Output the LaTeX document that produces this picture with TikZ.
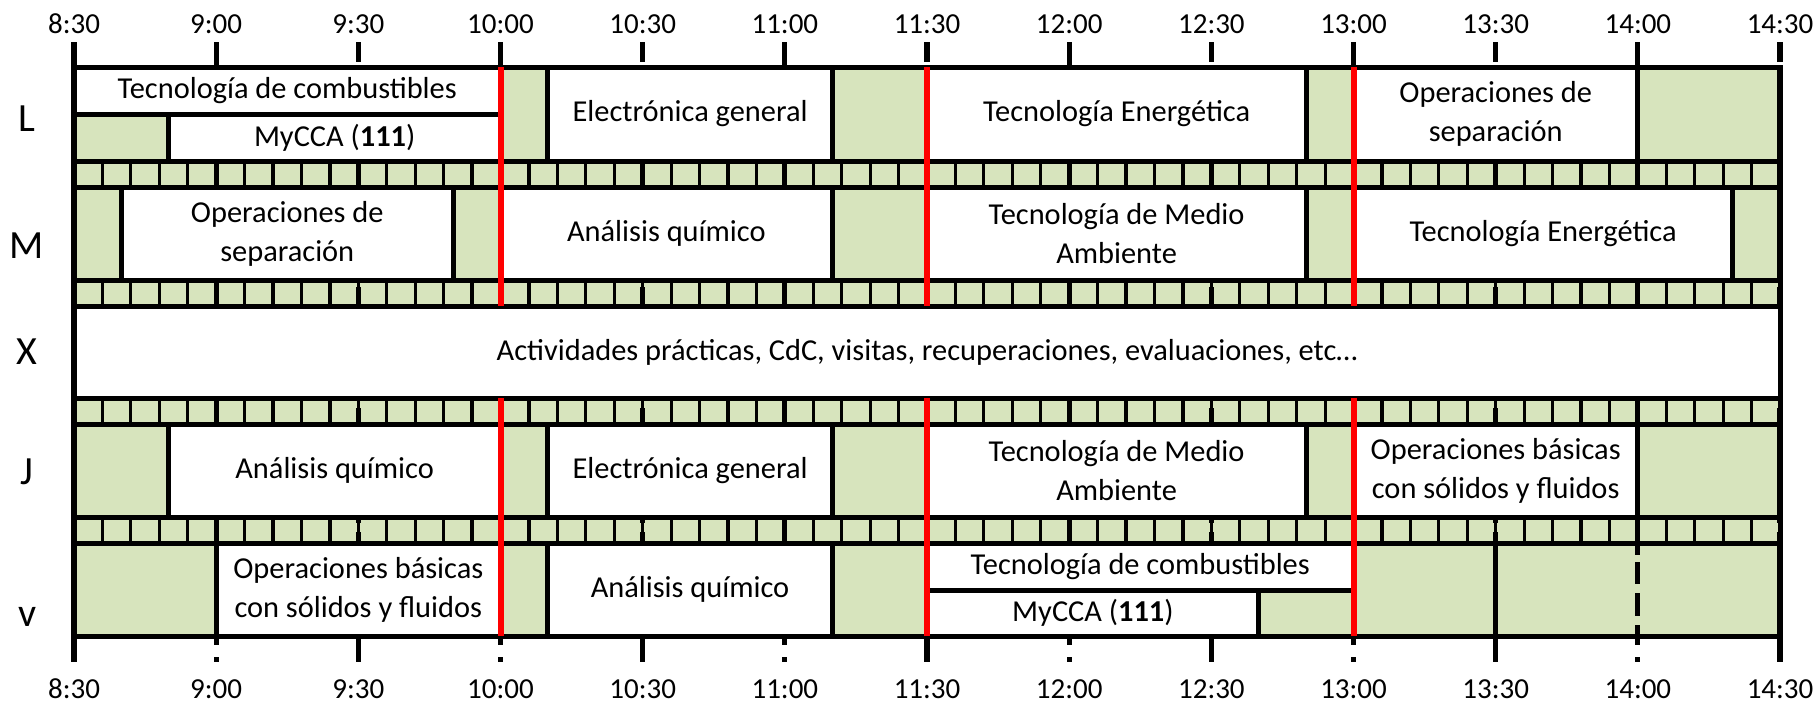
\documentclass[tikz,border=0pt]{standalone}
\usepackage{fontspec}
\setmainfont{Carlito}
\definecolor{slotgreen}{HTML}{D7E4BD}
\definecolor{breakred}{HTML}{FF0000}
\newcommand{\slot}[6]{%
	\draw[box] (#2,#4) rectangle (#3,#5);
	\node[subject] (#1) at ({(#2+#3)/2},{(#4+#5)/2}) {#6};
}

\begin{document}
\begin{tikzpicture}[x=2.3695pt,y=-0.5pt,
	box/.style={draw=black,line width=2.5pt,fill=white},
	free/.style={draw=black,line width=2.5pt,fill=slotgreen},
	cell/.style={draw=black,line width=1.6pt},
	wholehour/.style={line width=2.6pt,dash pattern=on 256.5pt off 3.5pt on 11pt off 4.5pt on 11.5pt off 4.5pt on 10pt off 6pt on 2.5pt},
	halfhour/.style={line width=2.6pt,dash pattern=on 10pt off 2pt on 108pt off 2.5pt on 55.5pt off 5pt on 57.5pt off 4.5pt on 65pt},
	breakline/.style={draw=breakred,line width=3pt},
	subject/.style={font=\fontsize{15.2}{19.5}\selectfont,align=center,inner sep=0pt},
	day/.style={font=\fontsize{20}{20}\selectfont},
	hour/.style={font=\fontsize{14.5}{17}\selectfont}]
	\useasboundingbox (-15.615,0) rectangle (367.8,703);
	% free time under every day
	\draw[free] (0,67) rectangle (360,161);
	\draw[free] (0,187) rectangle (360,280);
	\draw[free] (0,424) rectangle (360,517);
	\draw[free] (0,543) rectangle (360,636);
	% breaks between days, 6 minute cells
	\foreach \top/\bot in {161/187,280/306,398/424,517/543} {
		\fill[slotgreen] (0,\top) rectangle (360,\bot);
		\foreach \t in {6,12,...,354}
			\draw[cell] (\t,\top) -- (\t,\bot);
		\draw[line width=2.5pt] (0,\top) rectangle (360,\bot);
	}
	% half hour grid
	\draw[line width=2.6pt] (0,42) -- (0,662);
	\foreach \t in {30,90,...,330}
		\draw[wholehour] (\t,42) -- (\t,662);
	\foreach \t in {60,120,...,360}
		\draw[halfhour] (\t,42) -- (\t,662);
	% L
	\slot{tcL}{0}{90}{67}{114}{Tecnología de combustibles}
	\slot{myccaL}{20}{90}{114}{161}{MyCCA (\textbf{111})}
	\slot{elL}{100}{160}{67}{161}{Electrónica general}
	\slot{teL}{180}{260}{67}{161}{Tecnología Energética}
	\slot{osL}{270}{330}{67}{161}{Operaciones de\\separación}
	% M
	\slot{osM}{10}{80}{187}{280}{Operaciones de\\separación}
	\slot{aqM}{90}{160}{187}{280}{Análisis químico}
	\slot{tmaM}{180}{260}{187}{280}{Tecnología de Medio\\Ambiente}
	\slot{teM}{270}{350}{187}{280}{Tecnología Energética}
	% X
	\slot{actX}{0}{360}{306}{398}{Actividades prácticas, CdC, visitas, recuperaciones, evaluaciones, etc…}
	% J
	\slot{aqJ}{20}{90}{424}{517}{Análisis químico}
	\slot{elJ}{100}{160}{424}{517}{Electrónica general}
	\slot{tmaJ}{180}{260}{424}{517}{Tecnología de Medio\\Ambiente}
	\slot{obJ}{270}{330}{424}{517}{Operaciones básicas\\con sólidos y fluidos}
	% V
	\slot{obV}{30}{90}{543}{636}{Operaciones básicas\\con sólidos y fluidos}
	\slot{aqV}{100}{160}{543}{636}{Análisis químico}
	\slot{tcV}{180}{270}{543}{590}{Tecnología de combustibles}
	\slot{myccaV}{180}{250}{590}{636}{MyCCA (\textbf{111})}
	% red lines
	\foreach \t in {90,180,270} {
		\draw[breakline] (\t,67) -- (\t,306);
		\draw[breakline] (\t,398) -- (\t,636);
	}
	% days
	\node[day] (dayL) at (-9.9,119) {L};
	\node[day] (dayM) at (-9.9,246) {M};
	\node[day] (dayX) at (-9.9,352) {X};
	\node[day] (dayJ) at (-9.9,472) {J};
	\node[day] (dayV) at (-9.9,617) {v};
	% hours
	\foreach \t/\h in {0/8:30,30/9:00,60/9:30,90/10:00,120/10:30,150/11:00,180/11:30,210/12:00,240/12:30,270/13:00,300/13:30,330/14:00,360/14:30} {
		\node[hour] (top\t) at (\t,24) {\h};
		\node[hour] (bot\t) at (\t,689) {\h};
	}
\end{tikzpicture}
\end{document}
